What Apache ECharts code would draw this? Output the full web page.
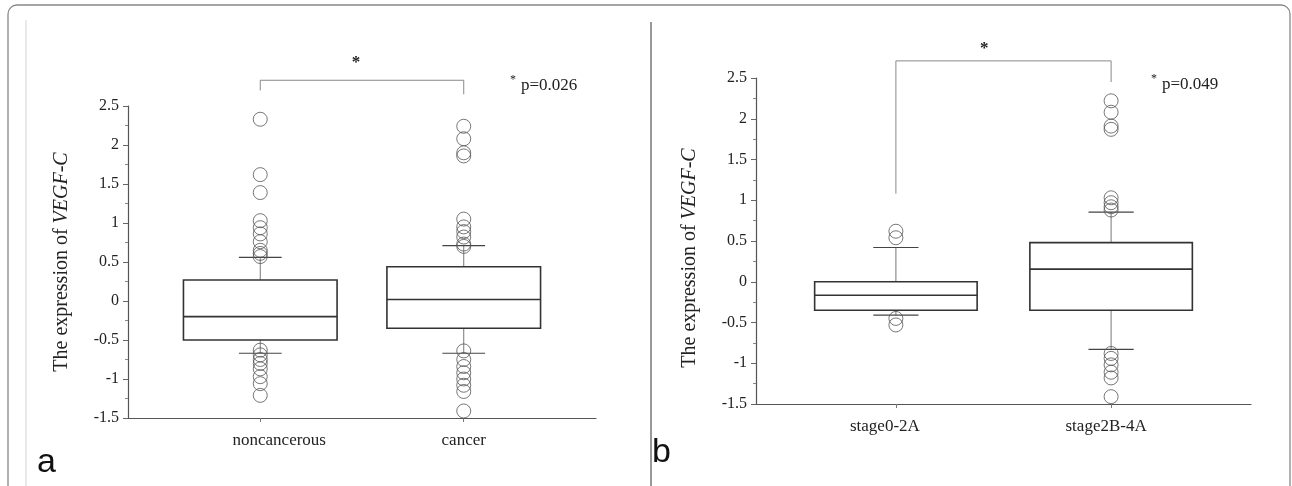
<!DOCTYPE html>
<html>
<head>
<meta charset="utf-8">
<script src="https://cdn.jsdelivr.net/npm/echarts@6/dist/echarts.min.js"></script>
<style>
  html, body { margin: 0; padding: 0; background: #fff; }
  #chart { width: 1292px; height: 486px; }
</style>
</head>
<body>
<div id="chart"></div>
<script>
// categories of the two panels
var catsA = ['noncancerous', 'cancer'];
var catsB = ['stage0-2A', 'stage2B-4A'];

// box stats: [x, lower whisker, Q1, median, Q3, upper whisker]
var boxesA = [
  [1, -0.67, -0.50, -0.20, 0.27, 0.56],
  [2, -0.67, -0.35, 0.02, 0.44, 0.71]
];
var boxesB = [
  [1, -0.41, -0.35, -0.165, 0.00, 0.42],
  [2, -0.83, -0.35, 0.155, 0.48, 0.855]
];

// outliers (circles)
var outA1 = [2.33, 1.62, 1.39, 1.03, 0.94, 0.86, 0.76, 0.65, 0.61, 0.57,
  -0.63, -0.69, -0.75, -0.80, -0.87, -0.97, -1.06, -1.21];
var outA2 = [2.24, 2.08, 1.90, 1.86, 1.05, 0.95, 0.89, 0.82, 0.73, 0.70,
  -0.64, -0.75, -0.84, -0.92, -1.00, -1.08, -1.16, -1.41];
var outB1 = [0.62, 0.54, -0.45, -0.53];
var outB2 = [2.22, 2.08, 1.91, 1.87, 1.03, 0.97, 0.92, 0.88,
  -0.88, -0.94, -1.02, -1.11, -1.18, -1.41];

// significance brackets: [x1, x2, top, left foot, right foot, star x, star y]
var bracketA = [[1, 2, 2.83, 2.70, 2.65, 1.47, 3.05]];
var bracketB = [[1, 2, 2.71, 1.08, 2.45, 1.41, 2.86]];
var pTextA = 'p=0.026';
var pTextB = 'p=0.049';

var serif = '"Liberation Serif", "DejaVu Serif", serif';

function pts(vals, x) {
  return vals.map(function (v) { return [x, v]; });
}

function renderBox(params, api) {
  var x = api.value(0);
  var unit = api.size([1, 0])[0];
  var bw = unit * 0.755, cw = unit * 0.21;
  var c = api.coord([x, 0])[0];
  var yLo = api.coord([x, api.value(1)])[1];
  var yQ1 = api.coord([x, api.value(2)])[1];
  var yMed = api.coord([x, api.value(3)])[1];
  var yQ3 = api.coord([x, api.value(4)])[1];
  var yHi = api.coord([x, api.value(5)])[1];
  var thin = { stroke: '#777', lineWidth: 1 };
  var cap = { stroke: '#444', lineWidth: 1.2 };
  var bold = { stroke: '#333', lineWidth: 1.6, fill: 'none' };
  return {
    type: 'group',
    children: [
      { type: 'line', shape: { x1: c, y1: yQ3, x2: c, y2: yHi }, style: thin },
      { type: 'line', shape: { x1: c, y1: yQ1, x2: c, y2: yLo }, style: thin },
      { type: 'line', shape: { x1: c - cw / 2, y1: yHi, x2: c + cw / 2, y2: yHi }, style: cap },
      { type: 'line', shape: { x1: c - cw / 2, y1: yLo, x2: c + cw / 2, y2: yLo }, style: cap },
      { type: 'rect', shape: { x: c - bw / 2, y: yQ3, width: bw, height: yQ1 - yQ3 }, style: bold },
      { type: 'line', shape: { x1: c - bw / 2, y1: yMed, x2: c + bw / 2, y2: yMed }, style: { stroke: '#333', lineWidth: 1.6 } }
    ]
  };
}

function renderBracket(params, api) {
  var pL = api.coord([api.value(0), api.value(2)]);
  var pR = api.coord([api.value(1), api.value(2)]);
  var fL = api.coord([api.value(0), api.value(3)]);
  var fR = api.coord([api.value(1), api.value(4)]);
  var st = api.coord([api.value(5), api.value(6)]);
  return {
    type: 'group',
    children: [
      { type: 'polyline', shape: { points: [[fL[0], fL[1]], pL, pR, [fR[0], fR[1]]] },
        style: { stroke: '#888', lineWidth: 1, fill: 'none' } },
      { type: 'text', x: st[0], y: st[1],
        style: { text: '*', font: 'bold 17px ' + serif, fill: '#222', align: 'center', verticalAlign: 'middle' } }
    ]
  };
}

function circles(data, xi, yi) {
  return {
    type: 'scatter', xAxisIndex: xi, yAxisIndex: yi, data: data,
    symbol: 'circle', symbolSize: 14, z: 5,
    itemStyle: { color: 'rgba(0,0,0,0)', borderColor: '#555', borderWidth: 1 }
  };
}

function xAxisOf(gi, cats, pads) {
  return {
    type: 'value', gridIndex: gi, min: 0.35, max: 2.65,
    axisLine: { onZero: false, lineStyle: { color: '#555', width: 1.2 } },
    axisTick: { customValues: [1, 2], length: 4, lineStyle: { color: '#777' } },
    axisLabel: {
      customValues: [1, 2], margin: 14, color: '#222',
      formatter: function (v) { var i = Math.round(v) - 1; return '{s' + i + '|' + cats[i] + '}'; },
      rich: {
        s0: { fontFamily: serif, fontSize: 17, color: '#222', padding: pads[0] },
        s1: { fontFamily: serif, fontSize: 17, color: '#222', padding: pads[1] }
      }
    },
    splitLine: { show: false }
  };
}

function yAxisOf(gi, pad) {
  return {
    type: 'value', gridIndex: gi, min: -1.5, max: 2.5, interval: 0.5,
    name: '{n|The expression of }{i|VEGF-C}', nameLocation: 'middle', nameGap: 56,
    nameTextStyle: {
      padding: pad,
      rich: {
        n: { fontFamily: serif, fontSize: 20, color: '#222' },
        i: { fontFamily: serif, fontSize: 20, color: '#222', fontStyle: 'italic' }
      }
    },
    axisLine: { show: true, onZero: false, lineStyle: { color: '#555', width: 1.2 } },
    axisTick: { show: true, length: 5, lineStyle: { color: '#666' } },
    minorTick: { show: true, splitNumber: 2, length: 3, lineStyle: { color: '#888' } },
    axisLabel: {
      fontFamily: serif, fontSize: 16, color: '#222', margin: 9,
      formatter: function (v) { return String(Math.round(v * 10) / 10); }
    },
    splitLine: { show: false }
  };
}

var chart = echarts.init(document.getElementById('chart'));
chart.setOption({
  animation: false,
  backgroundColor: '#fff',
  grid: [
    { left: 128, top: 106, width: 468, height: 312 },
    { left: 756, top: 78, width: 495, height: 326 }
  ],
  xAxis: [xAxisOf(0, catsA, [[0, 0, 0, 38], 0]), xAxisOf(1, catsB, [[0, 22, 0, 0], [0, 10, 0, 0]])],
  yAxis: [yAxisOf(0, 0), yAxisOf(1, [0, 34, 0, 0])],
  graphic: [
    { type: 'rect', z: -1, shape: { x: 8, y: 5, width: 1282, height: 520, r: 9 },
      style: { fill: 'none', stroke: '#888', lineWidth: 1.3 } },
    { type: 'line', shape: { x1: 26, y1: 20, x2: 26, y2: 486 }, style: { stroke: '#e2e2e2', lineWidth: 1.5 } },
    { type: 'line', shape: { x1: 651, y1: 22, x2: 651, y2: 486 }, style: { stroke: '#333', lineWidth: 1 } },
    { type: 'text', x: 37, y: 463, style: { text: 'a', font: '34px "Liberation Sans", Arial, sans-serif', fill: '#111', verticalAlign: 'middle' } },
    { type: 'text', x: 652, y: 453, style: { text: 'b', font: '34px "Liberation Sans", Arial, sans-serif', fill: '#111', verticalAlign: 'middle' } },
    { type: 'text', x: 510, y: 80, style: { text: '*', font: '12px ' + serif, fill: '#222', verticalAlign: 'middle' } },
    { type: 'text', x: 521, y: 86, style: { text: pTextA, font: '17px ' + serif, fill: '#222', verticalAlign: 'middle' } },
    { type: 'text', x: 1151, y: 79, style: { text: '*', font: '12px ' + serif, fill: '#222', verticalAlign: 'middle' } },
    { type: 'text', x: 1162, y: 85, style: { text: pTextB, font: '17px ' + serif, fill: '#222', verticalAlign: 'middle' } }
  ],
  series: [
    { type: 'custom', xAxisIndex: 0, yAxisIndex: 0, renderItem: renderBox, data: boxesA, z: 3 },
    { type: 'custom', xAxisIndex: 1, yAxisIndex: 1, renderItem: renderBox, data: boxesB, z: 3 },
    circles(pts(outA1, 1), 0, 0),
    circles(pts(outA2, 2), 0, 0),
    circles(pts(outB1, 1), 1, 1),
    circles(pts(outB2, 2), 1, 1),
    { type: 'custom', xAxisIndex: 0, yAxisIndex: 0, renderItem: renderBracket, data: bracketA, clip: false },
    { type: 'custom', xAxisIndex: 1, yAxisIndex: 1, renderItem: renderBracket, data: bracketB, clip: false }
  ]
});
</script>
</body>
</html>
